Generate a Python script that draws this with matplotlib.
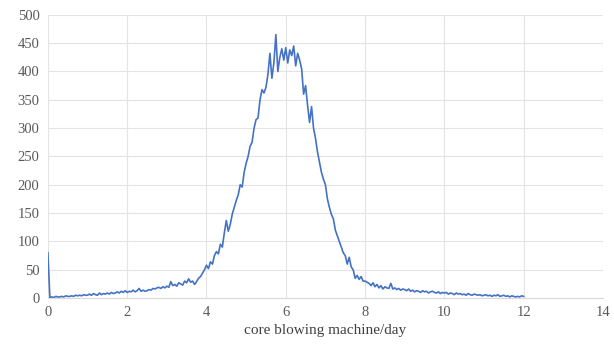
import matplotlib
matplotlib.use('Agg')
import matplotlib.pyplot as plt
import numpy as np

# daily load of core blowing machine, read at 0.05 day steps
step = 0.05
counts = [
    80, 1, 2, 1, 3, 2, 2, 3, 2, 4, 3, 3, 4, 3, 5, 4, 5, 4, 6, 5,
    5, 7, 5, 8, 6, 5, 9, 6, 8, 7, 9, 7, 10, 8, 9, 11, 9, 12, 10, 13,
    10, 12, 11, 14, 11, 13, 17, 12, 14, 12, 13, 15, 14, 17, 16, 18, 19, 17, 20, 18,
    21, 19, 29, 22, 24, 21, 27, 25, 23, 30, 27, 34, 28, 30, 24, 29, 35, 38, 44, 50,
    58, 52, 64, 60, 75, 82, 78, 95, 90, 115, 137, 118, 130, 148, 160, 172, 182, 200, 196, 222,
    238, 250, 268, 275, 300, 315, 318, 350, 368, 362, 372, 395, 432, 388, 415, 465, 400, 425, 440, 420,
    442, 415, 438, 428, 445, 410, 432, 420, 405, 360, 375, 340, 310, 338, 300, 282, 258, 240, 222, 210,
    200, 175, 160, 148, 140, 120, 110, 100, 90, 80, 75, 60, 72, 55, 50, 35, 40, 33, 38, 30,
    30, 28, 26, 22, 27, 20, 24, 18, 22, 16, 20, 18, 17, 26, 16, 18, 15, 17, 14, 16,
    15, 13, 16, 12, 14, 11, 13, 12, 10, 13, 11, 12, 9, 11, 12, 10, 9, 11, 8, 10,
    9, 10, 7, 9, 8, 6, 9, 7, 8, 6, 7, 5, 8, 6, 5, 7, 6, 5, 6, 4,
    5, 6, 4, 5, 3, 5, 4, 6, 3, 4, 5, 3, 4, 2, 4, 3, 2, 3, 2, 4,
    3,
]
days = np.arange(len(counts)) * step
xticks = [0, 2, 4, 6, 8, 10, 12, 14]
yticks = list(range(0, 501, 50))

plt.rcParams['font.family'] = ['Liberation Serif', 'DejaVu Serif']

fig = plt.figure(figsize=(6.14, 3.45), dpi=100)
ax = fig.add_axes([0.078, 0.136, 0.904, 0.821])
ax.plot(days, counts, color='#4472C4', linewidth=1.2)

ax.set_xlim(0, 14)
ax.set_ylim(0, 500)
ax.set_xticks(xticks)
ax.set_yticks(yticks)
ax.grid(True, color='#e3e3e3', linewidth=0.8)
ax.set_axisbelow(True)
for s in ['top', 'right', 'left']:
    ax.spines[s].set_visible(False)
ax.spines['bottom'].set_color('#d9d9d9')
ax.tick_params(length=0, labelsize=10.5, labelcolor='#595959', pad=6)
ax.set_xlabel('core blowing machine/day', fontsize=11, color='#404040', labelpad=3)

fig.savefig('out.png', dpi=100)
